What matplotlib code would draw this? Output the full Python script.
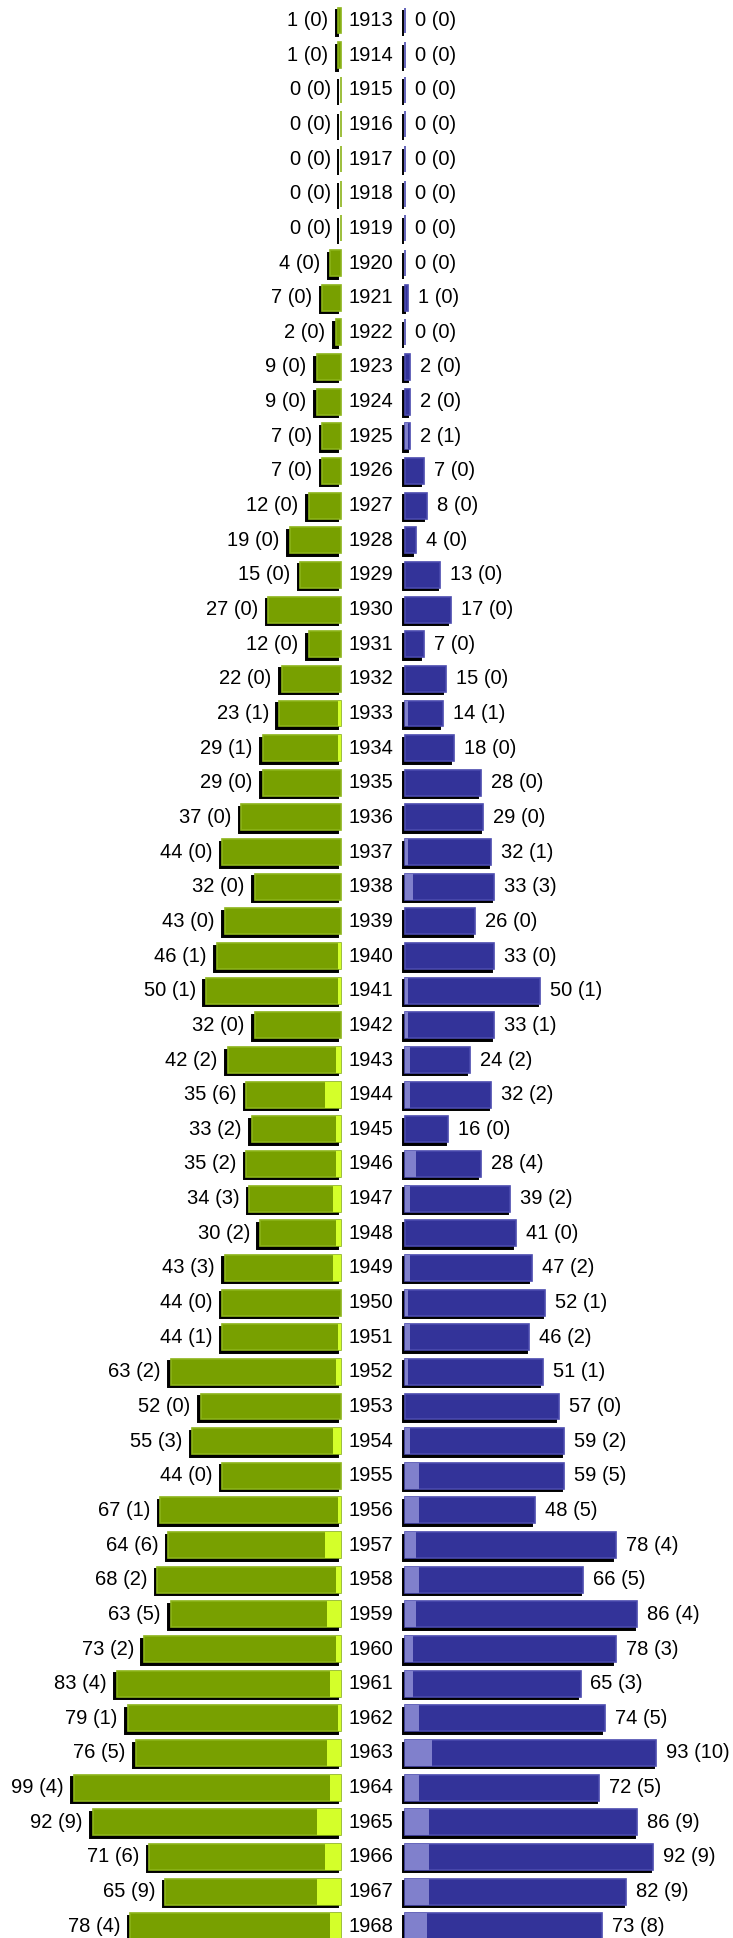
"""Back-to-back bar chart of yearly counts (1913-1968), with shadowed bars."""

import matplotlib
matplotlib.use("Agg")
import matplotlib.pyplot as plt
from matplotlib import transforms

plt.rcParams["font.family"] = ["Liberation Sans", "DejaVu Sans"]

years = list(range(1913, 1969))

left_total = [1, 1, 0, 0, 0, 0, 0, 4, 7, 2, 9, 9, 7, 7, 12, 19, 15, 27, 12, 22,
              23, 29, 29, 37, 44, 32, 43, 46, 50, 32, 42, 35, 33, 35, 34, 30, 43,
              44, 44, 63, 52, 55, 44, 67, 64, 68, 63, 73, 83, 79, 76, 99, 92, 71,
              65, 78]
left_sub = [0, 0, 0, 0, 0, 0, 0, 0, 0, 0, 0, 0, 0, 0, 0, 0, 0, 0, 0, 0,
            1, 1, 0, 0, 0, 0, 0, 1, 1, 0, 2, 6, 2, 2, 3, 2, 3,
            0, 1, 2, 0, 3, 0, 1, 6, 2, 5, 2, 4, 1, 5, 4, 9, 6,
            9, 4]

right_total = [0, 0, 0, 0, 0, 0, 0, 0, 1, 0, 2, 2, 2, 7, 8, 4, 13, 17, 7, 15,
               14, 18, 28, 29, 32, 33, 26, 33, 50, 33, 24, 32, 16, 28, 39, 41, 47,
               52, 46, 51, 57, 59, 59, 48, 78, 66, 86, 78, 65, 74, 93, 72, 86, 92,
               82, 73]
right_sub = [0, 0, 0, 0, 0, 0, 0, 0, 0, 0, 0, 0, 1, 0, 0, 0, 0, 0, 0, 0,
             1, 0, 0, 0, 1, 3, 0, 0, 1, 1, 2, 2, 0, 4, 2, 0, 2,
             1, 2, 1, 0, 2, 5, 5, 4, 5, 4, 3, 3, 5, 10, 5, 9, 9,
             9, 8]

GREEN = "#78a000"
GREEN_LIGHT = "#d4ff2a"
GREEN_EDGE = "#8cb41a"
BLUE = "#333399"
BLUE_LIGHT = "#8080cc"
BLUE_EDGE = "#4a4aae"

W, H, DPI = 733, 1938, 100
PX_PER_UNIT = 2.70
ROW0, PITCH = 20.5, 34.65
LEFT_EDGE, RIGHT_START, YEAR_X = 341, 405, 371

fig = plt.figure(figsize=(W / DPI, H / DPI), dpi=DPI)
ax_l = fig.add_axes([0, 0, LEFT_EDGE / W, 1])
ax_r = fig.add_axes([RIGHT_START / W, 0, 1 - RIGHT_START / W, 1])

ypos = list(range(len(years)))
y_top = -ROW0 / PITCH
y_bot = (H - ROW0) / PITCH


def draw_side(ax, totals, subs, dark, light, edge, label_dx, ha):
    # black drop shadow, shifted a few pixels left and down
    shadow = transforms.offset_copy(ax.transData, fig=fig, x=-2.5, y=-2.5, units="dots")
    ax.barh(ypos, totals, height=0.75, color="black", edgecolor="black",
            linewidth=1.4, transform=shadow, zorder=1, clip_on=False)
    ax.barh(ypos, totals, height=0.75, color=dark, edgecolor=edge,
            linewidth=1.2, zorder=2, clip_on=False)
    ax.barh(ypos, subs, height=0.75, color=light, linewidth=0, zorder=3,
            clip_on=False)
    for y, t, s in zip(ypos, totals, subs):
        ax.annotate(f"{t} ({s})", xy=(t, y), xytext=(label_dx, 0),
                    textcoords="offset pixels", ha=ha, va="center",
                    fontsize=14.5, color="black", zorder=4)
    ax.set_ylim(y_bot, y_top)
    ax.axis("off")


draw_side(ax_l, left_total, left_sub, GREEN, GREEN_LIGHT, GREEN_EDGE, -10, "right")
ax_l.set_xlim(LEFT_EDGE / PX_PER_UNIT, 0)

draw_side(ax_r, right_total, right_sub, BLUE, BLUE_LIGHT, BLUE_EDGE, 10, "left")
ax_r.set_xlim(0, (W - RIGHT_START) / PX_PER_UNIT)

year_trans = transforms.blended_transform_factory(fig.transFigure, ax_l.transData)
for y, yr in zip(ypos, years):
    fig.text(YEAR_X / W, y, str(yr), transform=year_trans, ha="center",
             va="center", fontsize=14.5)

fig.savefig("out.png", dpi=DPI)
